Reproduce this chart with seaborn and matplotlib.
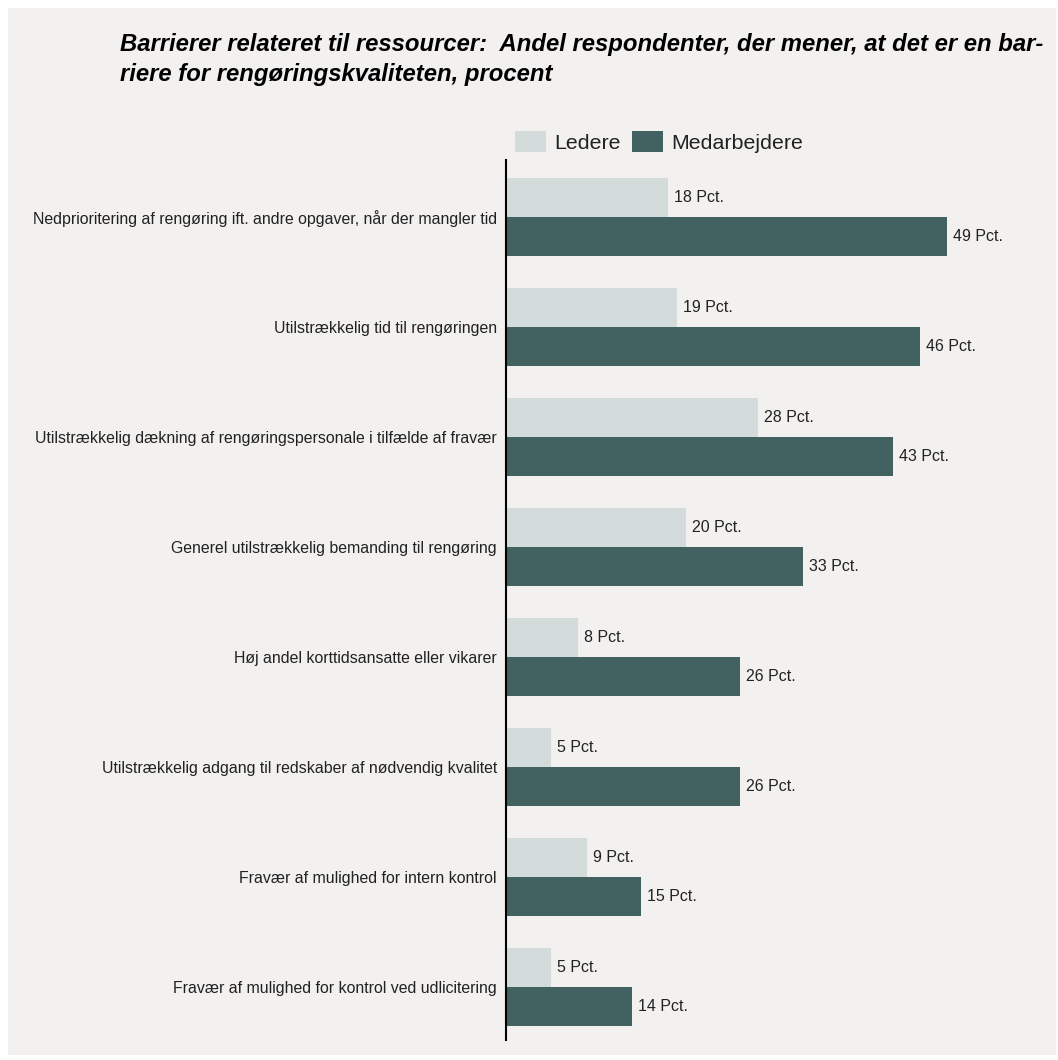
import matplotlib
matplotlib.use("Agg")
import matplotlib.pyplot as plt
import seaborn as sns
import pandas as pd
from matplotlib.patches import Rectangle

categories = [
    "Nedprioritering af rengøring ift. andre opgaver, når der mangler tid",
    "Utilstrækkelig tid til rengøringen",
    "Utilstrækkelig dækning af rengøringspersonale i tilfælde af fravær",
    "Generel utilstrækkelig bemanding til rengøring",
    "Høj andel korttidsansatte eller vikarer",
    "Utilstrækkelig adgang til redskaber af nødvendig kvalitet",
    "Fravær af mulighed for intern kontrol",
    "Fravær af mulighed for kontrol ved udlicitering",
]
ledere = [18, 19, 28, 20, 8, 5, 9, 5]
medarbejdere = [49, 46, 43, 33, 26, 26, 15, 14]
series_names = ["Ledere", "Medarbejdere"]
title = ("Barrierer relateret til ressourcer:  Andel respondenter, der mener, at det er en bar-\n"
         "riere for rengøringskvaliteten, procent")

df = pd.DataFrame({
    "kategori": categories * 2,
    "gruppe": [series_names[0]] * len(categories) + [series_names[1]] * len(categories),
    "pct": ledere + medarbejdere,
})

sns.set_theme(style="white")
plt.rcParams["font.family"] = ["Liberation Sans", "DejaVu Sans"]

W, H = 1058, 1060
fig = plt.figure(figsize=(W / 100, H / 100), dpi=100, facecolor="white")
bg = "#f2f1ef"
fig.patches.append(Rectangle((8 / W, 5 / H), (W - 10) / W, (H - 13) / H,
                             transform=fig.transFigure, facecolor=bg, edgecolor="none", zorder=-10))

ax_left = 506 / W
ax_w = (9.0 * 60) / W
ax_bottom = 1 - 1040 / H
ax_top = 1 - 160 / H
ax = fig.add_axes([ax_left, ax_bottom, ax_w, ax_top - ax_bottom])
ax.set_facecolor(bg)

palette = {"Ledere": "#d3dcdb", "Medarbejdere": "#426262"}
sns.barplot(data=df, y="kategori", x="pct", hue="gruppe", order=categories,
            hue_order=series_names, palette=palette, orient="h", width=0.71,
            saturation=1, ax=ax, legend=False, linewidth=0)

for cont, vals in zip(ax.containers, [ledere, medarbejdere]):
    ax.bar_label(cont, labels=[f"{v} Pct." for v in vals], padding=4,
                 fontsize=11.5, color="#222222")

ax.set_xlim(0, 60)
ax.set_ylim(7.48, -0.52)
ax.set_xlabel("")
ax.set_ylabel("")
ax.set_xticks([])
ax.tick_params(axis="y", length=0, pad=6.5, labelsize=11.4, labelcolor="#222222")
for s in ["top", "right", "bottom"]:
    ax.spines[s].set_visible(False)
ax.spines["left"].set_color("black")
ax.spines["left"].set_linewidth(1.5)

handles = [Rectangle((0, 0), 1, 1, facecolor=palette[n], edgecolor="none") for n in series_names]
fig.legend(handles, series_names, loc="center", bbox_to_anchor=(659 / W, 1 - 142 / H),
           ncol=2, frameon=False, fontsize=15.4, handlelength=1.45, handleheight=1.1,
           handletextpad=0.4, columnspacing=0.5, labelcolor="#222222")

fig.text(120 / W, 1 - 33 / H, title, ha="left", va="top", fontsize=17.2,
         fontweight="bold", fontstyle="italic", linespacing=1.4, color="black")

fig.savefig("out.png", dpi=100, facecolor="white")
